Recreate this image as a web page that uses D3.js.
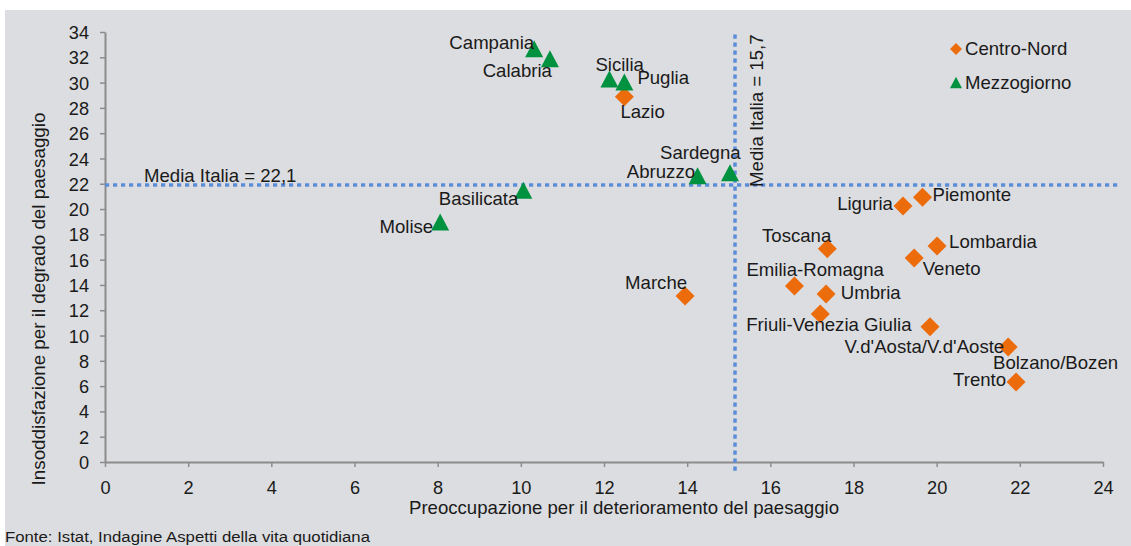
<!DOCTYPE html>
<html>
<head>
<meta charset="utf-8">
<script src="https://cdn.jsdelivr.net/npm/d3@7"></script>
<style>
  html, body { margin: 0; padding: 0; background: #ffffff; }
  svg { display: block; }
  text { font-family: "Liberation Sans", Arial, sans-serif; fill: #1a1a1a; }
</style>
</head>
<body>
<svg id="chart" width="1131" height="546"></svg>
<script>
// ---------------- data ----------------
const centroNordNames = ["Lazio", "Marche", "Piemonte", "Liguria", "Toscana", "Lombardia", "Veneto",
  "Emilia-Romagna", "Umbria", "Friuli-Venezia Giulia", "Bolzano/Bozen", "V.d'Aosta/V.d'Aoste", "Trento"];
const centroNordX = [12.49, 13.95, 19.66, 19.19, 17.37, 20.01, 19.46, 16.58, 17.34, 17.20, 19.84, 21.72, 21.91];
const centroNordY = [28.88, 13.13, 20.93, 20.24, 16.87, 17.08, 16.13, 13.92, 13.29, 11.70, 10.70, 9.09, 6.33];

const mezzogiornoNames = ["Campania", "Calabria", "Sicilia", "Puglia", "Sardegna", "Abruzzo", "Basilicata", "Molise"];
const mezzogiornoX = [10.32, 10.70, 12.13, 12.49, 15.03, 14.25, 10.06, 8.06];
const mezzogiornoY = [32.68, 31.88, 30.28, 30.05, 22.87, 22.63, 21.49, 18.98];

const seriesNames = ["Centro-Nord", "Mezzogiorno"];
const xTicks = [0, 2, 4, 6, 8, 10, 12, 14, 16, 18, 20, 22, 24];
const yTicks = [0, 2, 4, 6, 8, 10, 12, 14, 16, 18, 20, 22, 24, 26, 28, 30, 32, 34];
const mediaX = 15.15, mediaXLabel = "Media Italia = 15,7";
const mediaY = 21.9, mediaYLabel = "Media Italia = 22,1";
const xTitle = "Preoccupazione per il deterioramento del paesaggio";
const yTitle = "Insoddisfazione per il degrado del paesaggio";
const source = "Fonte: Istat, Indagine Aspetti della vita quotidiana";

// ---------------- layout (label placement, px offsets from marker) ----------------
const labelPlacement = {
  "Campania": ["end", 0, 0.5], "Calabria": ["end", 2, 18], "Sicilia": ["start", -14, -8],
  "Puglia": ["start", 13, 2], "Sardegna": ["start", -70, -14], "Abruzzo": ["end", -2.5, 2.5],
  "Basilicata": ["end", -5, 15], "Molise": ["end", -7, 11],
  "Lazio": ["start", -4, 21], "Marche": ["end", 2, -7], "Piemonte": ["start", 10, 3.5],
  "Liguria": ["end", -10, 3.5], "Toscana": ["end", 4, -7], "Lombardia": ["start", 12, 2.5],
  "Veneto": ["start", 8.5, 17], "Emilia-Romagna": ["start", -48, -10], "Umbria": ["start", 14.7, 5.3],
  "Friuli-Venezia Giulia": ["start", -74, 17], "Bolzano/Bozen": ["start", 63, 42],
  "V.d'Aosta/V.d'Aoste": ["end", -4, 5.7], "Trento": ["end", -10, 4]
};

const FS = 18.6;
const COLORS = { "Centro-Nord": "#ec6c0b", "Mezzogiorno": "#00923f" };
const svg = d3.select("#chart");

svg.append("rect").attr("x", 5).attr("y", 10).attr("width", 1126).attr("height", 536).attr("fill", "#dcdde0");

const x = d3.scaleLinear().domain([0, 24]).range([105, 1103]);
const y = d3.scaleLinear().domain([0, 34]).range([462, 32]);

// custom symbols
const diamondSym = { draw(ctx, size) { const r = Math.sqrt(size) / 2; ctx.moveTo(0, -r); ctx.lineTo(r, 0); ctx.lineTo(0, r); ctx.lineTo(-r, 0); ctx.closePath(); } };
const triangleSym = { draw(ctx, size) { const w = Math.sqrt(size), h = w * 0.95; ctx.moveTo(0, -h / 2); ctx.lineTo(w / 2, h / 2); ctx.lineTo(-w / 2, h / 2); ctx.closePath(); } };

// axes
const axisColor = "#8c8c8c";
const gx = svg.append("g").attr("transform", `translate(0,${y(0)})`)
  .call(d3.axisBottom(x).tickValues(xTicks).tickSize(5).tickSizeOuter(0).tickPadding(10).tickFormat(d3.format("d")));
const gy = svg.append("g").attr("transform", `translate(${x(0)},0)`)
  .call(d3.axisLeft(y).tickValues(yTicks).tickSize(5).tickSizeOuter(0).tickPadding(11).tickFormat(d3.format("d")));
[gx, gy].forEach(g => {
  g.select(".domain").attr("stroke", axisColor).attr("stroke-width", 2);
  g.selectAll(".tick line").attr("stroke", axisColor).attr("stroke-width", 1.5);
  g.selectAll(".tick text").attr("font-size", 18.2).attr("fill", "#1a1a1a")
    .attr("font-family", "Liberation Sans, Arial, sans-serif");
});
gx.selectAll(".tick text").attr("dy", "0.95em");
gy.selectAll(".tick text").attr("dy", "0.36em");

// reference lines
const lineColor = "#5b8ed8";
svg.append("line").attr("x1", x(0)).attr("x2", x(24.43)).attr("y1", y(mediaY)).attr("y2", y(mediaY))
  .attr("stroke", lineColor).attr("stroke-width", 3.5).attr("stroke-dasharray", "4.2,3.8");
svg.append("line").attr("x1", x(mediaX)).attr("x2", x(mediaX)).attr("y1", y(33.8)).attr("y2", y(-0.75))
  .attr("stroke", lineColor).attr("stroke-width", 3.5).attr("stroke-dasharray", "4.2,3.8");
svg.append("text").attr("x", x(0) + 39).attr("y", y(mediaY) - 3).attr("font-size", FS).text(mediaYLabel);
svg.append("text").attr("transform", `translate(${x(mediaX) + 28},${y(21.75)}) rotate(-90)`)
  .attr("font-size", FS).text(mediaXLabel);

// points
const cn = centroNordNames.map((n, i) => ({ name: n, x: centroNordX[i], y: centroNordY[i], s: "Centro-Nord" }));
const mz = mezzogiornoNames.map((n, i) => ({ name: n, x: mezzogiornoX[i], y: mezzogiornoY[i], s: "Mezzogiorno" }));
const all = cn.concat(mz);

svg.append("g").selectAll("path").data(cn).join("path")
  .attr("transform", d => `translate(${x(d.x)},${y(d.y)})`)
  .attr("d", d3.symbol(diamondSym, 19 * 19)).attr("fill", COLORS["Centro-Nord"]);
svg.append("g").selectAll("path").data(mz).join("path")
  .attr("transform", d => `translate(${x(d.x)},${y(d.y)})`)
  .attr("d", d3.symbol(triangleSym, 18 * 18)).attr("fill", COLORS["Mezzogiorno"]);

svg.append("g").selectAll("text").data(all).join("text")
  .attr("x", d => x(d.x) + labelPlacement[d.name][1])
  .attr("y", d => y(d.y) + labelPlacement[d.name][2])
  .attr("text-anchor", d => labelPlacement[d.name][0])
  .attr("font-size", FS).text(d => d.name);

// legend
const leg = svg.append("g");
seriesNames.forEach((s, i) => {
  const ly = 49 + i * 33.5;
  leg.append("path").attr("transform", `translate(956,${ly})`)
    .attr("d", d3.symbol(i === 0 ? diamondSym : triangleSym, 12 * 12))
    .attr("fill", COLORS[s]);
  leg.append("text").attr("x", 965).attr("y", ly + 6).attr("font-size", FS).text(s);
});

// titles
svg.append("text").attr("x", 624).attr("y", 514).attr("text-anchor", "middle")
  .attr("font-size", FS).text(xTitle);
svg.append("text").attr("transform", `translate(45,299) rotate(-90)`).attr("text-anchor", "middle")
  .attr("font-size", 18.8).text(yTitle);
svg.append("text").attr("x", 5).attr("y", 542).attr("font-size", 15.5)
  .attr("textLength", 365).attr("lengthAdjust", "spacingAndGlyphs").text(source);
</script>
</body>
</html>
